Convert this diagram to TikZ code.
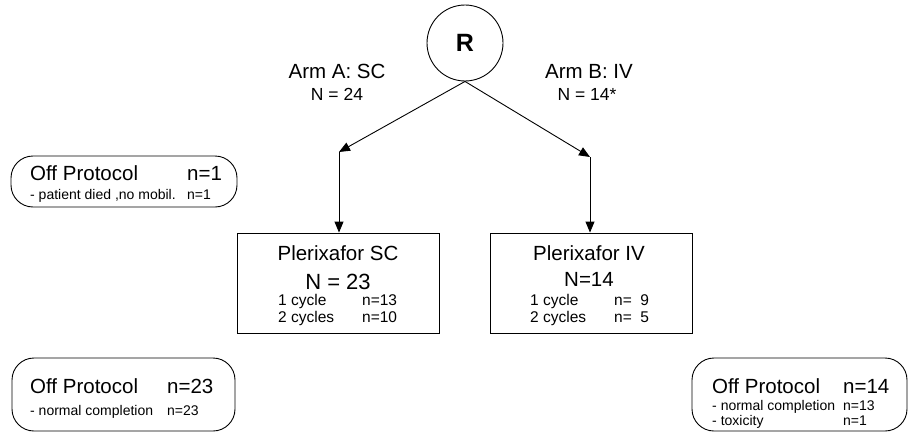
\documentclass[tikz,border=0pt]{standalone}
\usepackage{fontspec}
\setmainfont{Liberation Sans}
\usetikzlibrary{arrows.meta}
\begin{document}
\begin{tikzpicture}[x=1pt,y=-1pt,
  lw/.style={line width=0.9pt},
  arr/.style={lw,-{Triangle[length=11pt,width=9pt]}},
  stepbox/.style={draw,lw,minimum width=202pt,minimum height=100pt,inner sep=0pt},
  offbox/.style={draw,lw,rounded corners=22pt,inner sep=0pt},
  big/.style={font=\fontsize{20.5}{24}\selectfont,inner sep=0pt},
  nbig/.style={font=\fontsize{22}{24}\selectfont,inner sep=0pt},
  nsmall/.style={font=\fontsize{17.5}{20}\selectfont,inner sep=0pt},
  mid/.style={font=\fontsize{15.5}{18}\selectfont,inner sep=0pt,anchor=base west},
  small/.style={font=\fontsize{14}{16}\selectfont,inner sep=0pt,anchor=base west},
  bigw/.style={big,anchor=base west}]
\useasboundingbox (0,0) rectangle (909,436);

% randomisation circle
\node[draw,circle,lw,minimum size=76pt,inner sep=0pt,font=\fontsize{25}{25}\selectfont\bfseries] (R) at (465,43) {R};

% arm labels
\node[big,anchor=base] (armA) at (337,78) {Arm A: SC};
\node[nsmall,anchor=base] (armAn) at (337,100) {N = 24};
\node[big,anchor=base] (armB) at (589,78) {Arm B: IV};
\node[nsmall,anchor=base] (armBn) at (587,100) {N = 14*};

% bends
\coordinate (bA) at (339,152);
\coordinate (bB) at (590,157);

% treatment boxes
\node[stepbox] (sc) at (338,283) {};
\node[stepbox] (iv) at (591,283) {};

\draw[arr] (R.south) -- (bA);
\draw[arr] (bA) -- (bA |- sc.north);
\draw[arr] (R.south) -- (bB);
\draw[arr] (bB) -- (bB |- iv.north);

% SC box text
\node[big,anchor=base] (scT) at (338,260) {Plerixafor SC};
\node[nbig,anchor=base] (scN) at (338,289) {N = 23};
\node[mid] (sc1) at (278,305) {1 cycle};
\node[mid] (sc1n) at (362,305) {n=13};
\node[mid] (sc2) at (278,322) {2 cycles};
\node[mid] (sc2n) at (362,322) {n=10};

% IV box text
\node[big,anchor=base] (ivT) at (589,260) {Plerixafor IV};
\node[big,anchor=base] (ivN) at (589,286) {N=14};
\node[mid] (iv1) at (530,305) {1 cycle};
\node[mid] (iv1n) at (614,305) {n=\phantom{1}9};
\node[mid] (iv2) at (530,322) {2 cycles};
\node[mid] (iv2n) at (614,322) {n=\phantom{1}5};

% Off protocol boxes
\node[offbox,minimum width=226pt,minimum height=51pt] (off1) at (124,181.5) {};
\node[bigw] (off1t) at (30,180) {Off Protocol};
\node[bigw] (off1n) at (187,180) {n=1};
\node[small] (off1a) at (30,199) {- patient died ,no mobil.};
\node[small] (off1an) at (187,199) {n=1};

\node[offbox,minimum width=223pt,minimum height=73pt] (off23) at (123.5,394.5) {};
\node[bigw] (off23t) at (30,393) {Off Protocol};
\node[bigw] (off23n) at (167,393) {n=23};
\node[small] (off23a) at (30,415) {- normal completion};
\node[small] (off23an) at (167,415) {n=23};

\node[offbox,minimum width=215pt,minimum height=73pt] (off14) at (799.5,394.5) {};
\node[bigw] (off14t) at (712,393) {Off Protocol};
\node[bigw] (off14n) at (843,393) {n=14};
\node[small] (off14a) at (712,410) {- normal completion};
\node[small] (off14an) at (843,410) {n=13};
\node[small] (off14b) at (712,425) {- toxicity};
\node[small] (off14bn) at (843,425) {n=1};
\end{tikzpicture}
\end{document}
